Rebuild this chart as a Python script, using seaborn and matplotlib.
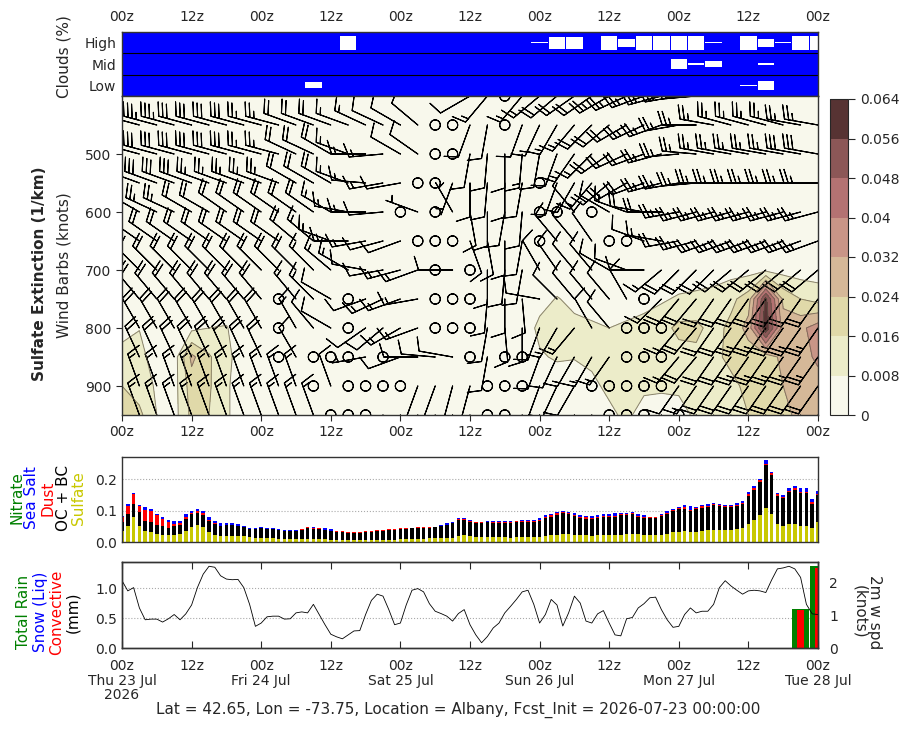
import numpy as np
import matplotlib
matplotlib.use("Agg")
import matplotlib.pyplot as plt
from matplotlib.colors import ListedColormap, BoundaryNorm
import seaborn as sns

sns.set_style("ticks")
plt.rcParams['font.family'] = ['DejaVu Sans']

# ---------------- data ----------------
hours_3h = list(range(0, 121, 3))          # 41 model times (3-hourly)
hours_1h = list(range(0, 121))             # 121 hourly times
levels_hpa = [400, 450, 500, 550, 600, 650, 700, 750, 800, 850, 900, 950]
tick_hours = list(range(0, 121, 12))
hour_labels = ['00z', '12z'] * 5 + ['00z']
day_labels = ['Thu 23 Jul\n2026', 'Fri 24 Jul', 'Sat 25 Jul', 'Sun 26 Jul', 'Mon 27 Jul', 'Tue 28 Jul']

# cloud cover (%) per 3h for high / mid / low
cloud_high = [100]*13 + [0] + [100]*10 + [90, 14, 14, 100, 0, 43, 0, 0, 0, 0, 90, 100, 0, 43, 90, 0, 0]
cloud_mid = [100]*32 + [22, 90, 57, 100, 100, 90, 100, 100, 100]
cloud_low = [100]*11 + [57] + [100]*24 + [90, 36, 100, 100, 100]

# wind direction (deg, from) and speed (kt), rows = levels_hpa, cols = hours_3h
wind_dir = [
    [290]*10 + [290, 290, 295, 295, 300, 300, 305, 310, 320, 330, 240, 220] + [0] + [220, 230, 230, 235, 235] + [240, 245, 250, 255, 260, 265, 270] + [275, 280, 280, 280, 280, 280],
    [285]*10 + [290, 290, 290, 290, 295, 295, 300, 310] + [0, 0] + [200, 190] + [0] + [200, 205, 210, 220, 225] + [230, 240, 245, 250, 260, 270, 280] + [285, 285, 285, 285, 280, 280],
    [285]*10 + [295, 295, 300, 290, 270, 265, 300, 305] + [0, 0] + [190, 185, 180, 185, 190, 200, 215, 225] + [235, 245, 250, 255, 265, 275, 280] + [280]*6,
    [290]*10 + [300, 300, 300, 290, 275, 260, 260] + [0, 0] + [200] + [180, 185, 180, 190] + [0] + [200, 210, 220] + [230, 240, 250, 255, 260, 265, 270] + [270]*6,
    [300, 300, 295, 295, 300, 300, 305, 305, 305, 305] + [305, 305, 300, 280, 270, 265] + [0] + [290] + [0] + [330] + [170, 180, 190, 185] + [0, 0] + [320] + [0] + [300, 290, 280, 270, 260, 255, 255] + [255]*6,
    [305]*10 + [310, 310, 290, 270, 260, 255, 250] + [0, 0, 0] + [160, 170, 180, 190] + [0] + [320, 320, 325] + [0, 0] + [290, 280, 260, 255, 250] + [250]*6,
    [315]*10 + [315, 315, 310, 300, 280, 260, 255, 250] + [0] + [270] + [0] + [180, 185, 190] + [330, 325, 320, 320] + [300, 290, 270] + [230, 225, 225, 225] + [230]*6,
    [320]*9 + [0] + [320, 315, 300] + [0] + [250, 245, 250, 260] + [0, 0, 0] + [185, 180, 175] + [280] + [315, 320, 320] + [320, 330] + [0] + [225, 220, 220, 215] + [215]*6,
    [330]*9 + [0] + [330, 320, 300] + [0] + [235, 230, 240, 250] + [0, 0, 0] + [190, 175, 180] + [200, 210, 220] + [330, 320] + [0, 0, 0] + [220, 220, 215] + [215]*6,
    [335]*9 + [0] + [330] + [0, 0, 0] + [260] + [0] + [250, 270] + [275, 280] + [0] + [190] + [0, 0] + [200, 205, 210, 210, 215] + [0, 0, 0] + [220, 220, 215] + [215]*6,
    [340]*11 + [0] + [340] + [0, 0, 0, 0] + [200, 200, 195, 195] + [0, 0, 0] + [200, 205, 210] + [0]*5 + [215, 215, 215] + [215]*6,
    [340]*12 + [0, 0, 0] + [200]*6 + [0, 0] + [205]*5 + [0, 0, 0] + [210] + [0] + [210, 210] + [215]*6,
]
wind_spd = [
    [35, 35, 35, 30, 30, 30, 30, 30, 25, 25] + [25, 25, 20, 20, 15, 15, 15, 10, 5, 5, 10, 15] + [0] + [15, 15, 20, 20, 20] + [25]*7 + [25, 25, 25, 20, 20, 20],
    [35, 35, 35, 35, 30, 30, 30, 30, 25, 25] + [20, 20, 20, 15, 15, 10, 10, 10] + [0, 0] + [10, 10] + [0] + [10, 15, 15, 15, 20] + [20, 20, 25, 25, 25, 25, 25] + [25]*6,
    [35, 35, 30, 30, 30, 30, 30, 30, 25, 25] + [20, 20, 20, 15, 15, 15, 10, 10] + [0, 0] + [10, 10, 10, 15, 10, 10, 15, 15] + [20, 20, 20, 25, 25, 25, 25] + [25, 25, 25, 25, 30, 30],
    [30, 30, 30, 30, 30, 25, 25, 25, 25, 25] + [20, 20, 20, 15, 15, 15, 10] + [0, 0] + [5] + [10, 10, 10, 10] + [0] + [10, 10, 15] + [20, 20, 20, 25, 25, 25, 25] + [25]*6,
    [25, 25, 25, 25, 20, 20, 20, 20, 20, 20] + [20, 20, 15, 15, 15, 10] + [0] + [5] + [0] + [5] + [10, 10, 10, 10] + [0, 0] + [10] + [0] + [10, 15, 20, 20, 25, 25, 25] + [25]*6,
    [20]*10 + [20, 15, 15, 15, 15, 10, 10] + [0, 0, 0] + [10, 10, 10, 10] + [0] + [10, 10, 10] + [0, 0] + [10, 15, 20, 25, 25] + [25]*6,
    [20]*10 + [20, 15, 15, 15, 10, 10, 15, 15] + [0] + [10] + [0] + [10, 10, 10] + [10, 10, 10, 10] + [10, 10, 10] + [15, 20, 20, 20] + [20]*6,
    [20]*9 + [0] + [15, 15, 10] + [0] + [10, 15, 15, 15] + [0, 0, 0] + [10, 10, 10] + [10] + [10, 10, 10] + [10, 10] + [0] + [15, 20, 20, 20] + [20]*6,
    [20]*9 + [0] + [15, 10, 10] + [0] + [10, 10, 15, 15] + [0, 0, 0] + [10, 10, 10] + [10, 15, 15] + [10, 10] + [0, 0, 0] + [15, 20, 20] + [20, 25, 25, 25, 25, 25],
    [20]*9 + [0] + [10] + [0, 0, 0] + [5] + [0] + [10, 10] + [10, 10] + [0] + [10] + [0, 0] + [10, 10, 15, 15, 15] + [0, 0, 0] + [15, 20, 20] + [20, 25, 25, 25, 25, 25],
    [15]*11 + [0] + [10] + [0, 0, 0, 0] + [10, 10, 10, 10] + [0, 0, 0] + [10, 10, 10] + [0]*5 + [10, 15, 20] + [20]*6,
    [15]*12 + [0, 0, 0] + [10]*6 + [0, 0] + [10]*5 + [0, 0, 0] + [10] + [0] + [10, 15] + [20]*6,
]

# sulfate extinction (1/km), rows = levels_hpa, cols = hours_3h
bg = 0.003
sulfate_ext = [
    [bg]*41,
    [bg]*41,
    [bg]*41,
    [bg]*41,
    [bg]*41,
    [bg]*41,
    [bg]*34 + [0.004, 0.005, 0.005, 0.006, 0.005, 0.004, 0.004],
    [bg]*24 + [0.005, 0.0085, 0.006, 0.005, 0.005, 0.005, 0.006, 0.007, 0.009, 0.010, 0.011, 0.014, 0.020, 0.058, 0.022, 0.016, 0.013],
    [0.006, 0.0078, 0.004, 0.005, 0.006, 0.008, 0.0085] + [bg]*17 + [0.010, 0.011, 0.010, 0.009, 0.008, 0.009, 0.010, 0.013, 0.018, 0.018, 0.013, 0.018, 0.027, 0.062, 0.028, 0.030, 0.036],
    [0.010, 0.010, 0.005, 0.004, 0.026, 0.017, 0.010, 0.004] + [bg]*16 + [0.007, 0.009, 0.0085, 0.009, 0.010, 0.011, 0.012, 0.012, 0.013, 0.014, 0.015, 0.017, 0.020, 0.020, 0.026, 0.028, 0.034],
    [0.016, 0.012, 0.007, 0.005, 0.020, 0.017, 0.009, 0.004] + [bg]*19 + [0.007, 0.009, 0.010, 0.009, 0.009, 0.009, 0.011, 0.013, 0.015, 0.017, 0.019, 0.024, 0.026, 0.028],
    [0.020, 0.018, 0.008, 0.005, 0.018, 0.016, 0.009, 0.004] + [bg]*20 + [0.007, 0.009, 0.006, 0.005, 0.006, 0.009, 0.011, 0.013, 0.016, 0.018, 0.022, 0.026, 0.027],
]

# hourly aerosol optical depth components
sulfate = [.036, .051, .079, .051, .035, .032, .026, .022, .022, .022, .026, .036, .049, .054, .047, .032, .022, .019, .019, .019,
           .019, .019, .016, .013, .013, .013, .013, .010, .010, .010, .010, .010, .010, .010, .010, .010, .006, .006, .006, .006,
           .006, .006, .006, .006, .006, .006, .006, .006, .010, .010, .010, .010, .010, .013, .013, .013, .013, .013, .019, .022,
           .019, .016, .016, .016, .016, .016, .016, .013, .016, .016, .016, .016, .016, .019, .022, .022, .026, .026, .022, .022,
           .022, .019, .022, .022, .022, .022, .022, .026, .026, .026, .022, .022, .022, .022, .026, .032, .032, .035, .032, .032,
           .035, .038, .038, .038, .038, .038, .041, .045, .057, .070, .086, .109, .089, .057, .051, .057, .057, .051, .051, .045,
           .064]
oc_bc = [.027, .038, .043, .043, .032, .030, .029, .029, .023, .029, .029, .037, .040, .039, .039, .035, .035, .032, .035, .035,
         .032, .028, .026, .029, .031, .029, .029, .027, .024, .024, .025, .027, .033, .031, .030, .029, .030, .026, .026, .024,
         .023, .023, .026, .026, .029, .029, .031, .032, .031, .032, .033, .034, .035, .033, .034, .038, .040, .047, .051, .048,
         .046, .044, .044, .046, .045, .045, .045, .048, .048, .049, .049, .048, .051, .057, .059, .064, .066, .063, .062, .055,
         .052, .054, .054, .059, .059, .059, .064, .060, .062, .055, .055, .053, .053, .061, .063, .067, .072, .071, .068, .072,
         .074, .074, .080, .077, .072, .072, .073, .077, .089, .096, .106, .134, .124, .090, .089, .103, .109, .104, .104, .077,
         .086]
dust = [.016, .026, .029, .019, .035, .035, .030, .022, .020, .005, .005, .007, .004, .006, .005, .003, .003, 0, 0, 0,
        0, 0, 0, 0, 0, 0, 0, 0, 0, 0, 0, .003, .004, .005, .004, 0, 0, .003, .003, .002,
        .003, .003, .003, .004, .004, .004, .003, .003, .003, .003, .003, .003, .002, .002, .001, 0, 0, 0, .003, .003,
        .002, .003, .004, .003, .003, .003, .003, .003, .003, .002, .002, .003, .003, .003, .004, .005, .003, .003, .003, .003,
        .004, .003, .003, .003, .003, .003, .003, .003, .003, .003, .003, .003, .003, .003, .003, .003, .003, .004, .003, .003,
        .004, .003, .003, .003, .004, .004, .003, .003, .005, .006, .004, .006, .005, .004, .003, .003, .004, .004, .004, .004,
        .004]
sea_salt = [.004, .006, .005, .005, .009, .009, .005, .005, .006, .011, .007, .009, .006, .005, .007, .011, .006, .009, .006, .006,
            .005, .004, .004, .004, .005, .004, .004, .005, .004, .004, .003, 0, 0, .002, .002, .005, .004, 0, 0, 0,
            0, 0, 0, 0, 0, 0, 0, 0, 0, 0, 0, 0, 0, 0, 0, .004, .006, .002, .004, .003,
            .003, 0, 0, .003, .004, .004, .004, .004, 0, .004, .004, .004, .007, .007, .004, .005, .004, .004, .005, .005,
            .004, .006, .006, .005, .005, .009, .004, .004, .005, .005, .005, 0, 0, .003, .007, .003, .005, .007, .010, .005,
            .003, .005, .004, .003, .003, .003, .006, .006, .007, .006, .003, .010, .004, .004, .006, .009, .009, .013, .013, .009,
            .009]
nitrate = [0.0] * 121

# 3-hourly precipitation (mm)
total_rain = [0]*39 + [0.66, 1.37]
snow_liq = [0]*41
convective = [0]*39 + [0.63, 1.34]

# hourly 2 m wind speed (knots)
wind2m = [2.05, 1.74, 1.84, 1.22, 0.86, 0.88, 0.88, 0.79, 0.89, 1.02, 0.86, 1.04, 1.31, 1.84, 2.25, 2.49, 2.46, 2.20, 2.10, 2.08,
          2.09, 1.84, 1.33, 0.66, 0.76, 0.95, 0.97, 0.97, 0.88, 0.89, 1.07, 1.10, 1.07, 1.33, 1.02, 0.71, 0.42, 0.34, 0.28, 0.40,
          0.52, 0.53, 1.02, 1.45, 1.64, 1.58, 1.17, 0.71, 0.76, 1.31, 1.76, 1.81, 1.71, 1.35, 1.12, 1.05, 0.97, 0.82, 1.05, 1.17,
          0.71, 0.40, 0.16, 0.35, 0.61, 0.76, 1.07, 1.27, 1.48, 1.71, 1.76, 1.33, 0.76, 1.02, 1.48, 1.31, 0.67, 1.07, 1.58, 1.37,
          0.82, 0.76, 1.04, 1.14, 0.76, 0.40, 0.37, 0.89, 0.93, 1.22, 1.35, 1.53, 1.55, 1.17, 0.86, 0.63, 0.66, 1.02, 1.22, 1.07,
          1.12, 1.12, 1.33, 1.84, 2.05, 1.89, 1.76, 1.64, 1.74, 1.76, 1.74, 1.69, 2.07, 2.41, 2.44, 2.49, 2.41, 2.15, 1.33, 1.04,
          1.02]

ext_levels = [0, 0.008, 0.016, 0.024, 0.032, 0.040, 0.048, 0.056, 0.064]
ext_colors = ['#f8f8ec', '#ececc9', '#e0d9a9', '#d5b898', '#c99587', '#b47272', '#8c5757', '#573333']

# ---------------- figure ----------------
W, H = 909, 730
fig = plt.figure(figsize=(W/100, H/100), dpi=100)

def box(l, t, r, b):
    return [l/W, 1 - b/H, (r - l)/W, (b - t)/H]

TICK = 10
LAB = 11

ax_cl = fig.add_axes(box(122, 32, 818, 96))
ax_m = fig.add_axes(box(122, 96, 818, 415))
cax = fig.add_axes(box(830, 99, 848, 415))
ax_a = fig.add_axes(box(122, 457, 818, 542))
ax_p = fig.add_axes(box(122, 562, 818, 648))

# ---- clouds ----
ax_cl.set_facecolor('#0000ff')
t3 = np.array(hours_3h)
for row_c, cov in zip([2.5, 1.5, 0.5], [cloud_high, cloud_mid, cloud_low]):
    h = 0.66 * (100 - np.array(cov, float)) / 100.0
    ax_cl.bar(t3, h, bottom=row_c - h/2, width=2.8, color='white', linewidth=0)
for yl in [1, 2]:
    ax_cl.axhline(yl, color='black', lw=0.8)
ax_cl.set_xlim(0, 120)
ax_cl.set_ylim(0, 3)
ax_cl.set_yticks([2.5, 1.5, 0.5])
ax_cl.set_yticklabels(['High', 'Mid', 'Low'], fontsize=TICK)
ax_cl.tick_params(axis='y', length=0, pad=4)
ax_cl.xaxis.tick_top()
ax_cl.set_xticks(tick_hours)
ax_cl.set_xticklabels(hour_labels, fontsize=TICK)
ax_cl.tick_params(axis='x', length=0, pad=6)

# ---- main contour + barbs ----
T, P = np.meshgrid(t3, levels_hpa)
S = np.array(sulfate_ext)
cmap = ListedColormap(ext_colors)
norm = BoundaryNorm(ext_levels, cmap.N)
cf = ax_m.contourf(T, P, S, levels=ext_levels, cmap=cmap, norm=norm, extend='neither')
ax_m.contour(T, P, S, levels=ext_levels[1:], colors='#5f5646', linewidths=0.7, alpha=0.7)
D = np.deg2rad(np.array(wind_dir, float))
SP = np.array(wind_spd, float)
U = -SP * np.sin(D)
V = -SP * np.cos(D)
ax_m.barbs(T, P, U, V, length=7, linewidth=0.8, color='black', clip_on=True)
ax_m.set_xlim(0, 120)
ax_m.set_ylim(950, 400)
ax_m.set_yticks([500, 600, 700, 800, 900])
ax_m.set_yticklabels(['500', '600', '700', '800', '900'], fontsize=TICK)
ax_m.set_xticks(tick_hours)
ax_m.set_xticklabels(hour_labels, fontsize=TICK)
ax_m.tick_params(length=4)

cb = fig.colorbar(cf, cax=cax, ticks=ext_levels)
cb.ax.set_yticklabels([f'{v:g}' for v in ext_levels], fontsize=TICK)
cb.ax.tick_params(length=5)
cb.outline.set_linewidth(0.8)

# ---- aerosol stacked bars ----
th = np.array(hours_1h)
bottom = np.zeros(121)
for vals, col in [(sulfate, '#c8c800'), (oc_bc, 'black'), (dust, '#ff0000'), (sea_salt, '#0000ff'), (nitrate, '#008000')]:
    v = np.array(vals, float)
    ax_a.bar(th, v, bottom=bottom, width=0.6, color=col, linewidth=0)
    bottom = bottom + v
ax_a.set_xlim(0, 120)
ax_a.set_ylim(0, 0.27)
ax_a.set_yticks([0.0, 0.1, 0.2])
ax_a.set_yticklabels(['0.0', '0.1', '0.2'], fontsize=TICK)
ax_a.set_xticks(tick_hours)
ax_a.tick_params(axis='x', length=0, labelbottom=False)
ax_a.tick_params(axis='y', length=0)
for g in [0.1, 0.2]:
    ax_a.axhline(g, color='#aaaaaa', lw=0.8, ls=':', zorder=0)

# ---- precipitation + 2m wind ----
ax_p.bar(t3, total_rain, width=2.8, color='#008000', linewidth=0)
ax_p.bar(t3, snow_liq, width=1.9, color='#0000ff', linewidth=0)
ax_p.bar(t3, convective, width=1.1, color='#ff0000', linewidth=0)
ax_p.set_xlim(0, 120)
ax_p.set_ylim(0, 1.44)
ax_p.set_yticks([0.0, 0.5, 1.0])
ax_p.set_yticklabels(['0.0', '0.5', '1.0'], fontsize=TICK)
for g in [0.5, 1.0]:
    ax_p.axhline(g, color='#aaaaaa', lw=0.8, ls=':', zorder=0)
ax_p.set_xticks(tick_hours)
xl = []
for i, hlab in enumerate(hour_labels):
    if i % 2 == 0:
        xl.append(hlab + '\n' + day_labels[i // 2])
    else:
        xl.append(hlab)
ax_p.set_xticklabels(xl, fontsize=TICK, linespacing=1.05)
ax_p.tick_params(axis='x', direction='in', top=True, length=5, pad=8)
ax_p.tick_params(axis='y', length=0)

ax_w = ax_p.twinx()
sns.lineplot(x=hours_1h, y=wind2m, ax=ax_w, color='black', linewidth=0.6)
ax_w.set_ylim(0, 2.62)
ax_w.set_yticks([0, 1, 2])
ax_w.set_yticklabels(['0', '1', '2'], fontsize=TICK)
ax_w.set_ylabel('')
ax_w.tick_params(axis='y', length=0, pad=8)
ax_w.set_xlim(0, 120)

for a in [ax_cl, ax_m, ax_a, ax_p, ax_w]:
    for s in a.spines.values():
        s.set_linewidth(1.0)
        s.set_color('#333333')

# ---- labels ----
def ftext(x, y, s, **kw):
    fig.text(x/W, 1 - y/H, s, **kw)

ftext(64, 57, 'Clouds (%)', rotation=90, ha='center', va='center', fontsize=LAB)
ftext(40, 274, 'Sulfate Extinction (1/km)', rotation=90, ha='center', va='center', fontsize=LAB, fontweight='bold')
ftext(64, 265, 'Wind Barbs (knots)', rotation=90, ha='center', va='center', fontsize=LAB)
for x, s, c in [(17, 'Nitrate', '#008000'), (32, 'Sea Salt', '#0000ff'), (48, 'Dust', '#ff0000'),
                (63, 'OC + BC', 'black'), (79, 'Sulfate', '#c8c800')]:
    ftext(x, 498, s, rotation=90, ha='center', va='center', fontsize=LAB, color=c)
for x, s, c in [(24, 'Total Rain', '#008000'), (40, 'Snow (Liq)', '#0000ff'), (57, 'Convective', '#ff0000'),
                (73, '(mm)', 'black')]:
    ftext(x, 612, s, rotation=90, ha='center', va='center', fontsize=LAB, color=c)
ftext(867, 612, '2m w spd\n(knots)', rotation=270, ha='center', va='center', fontsize=LAB, multialignment='center', linespacing=0.95)
ftext(458, 710, 'Lat = 42.65, Lon = -73.75, Location = Albany, Fcst_Init = 2026-07-23 00:00:00',
      ha='center', va='center', fontsize=LAB)

fig.savefig('out.png', dpi=100)
